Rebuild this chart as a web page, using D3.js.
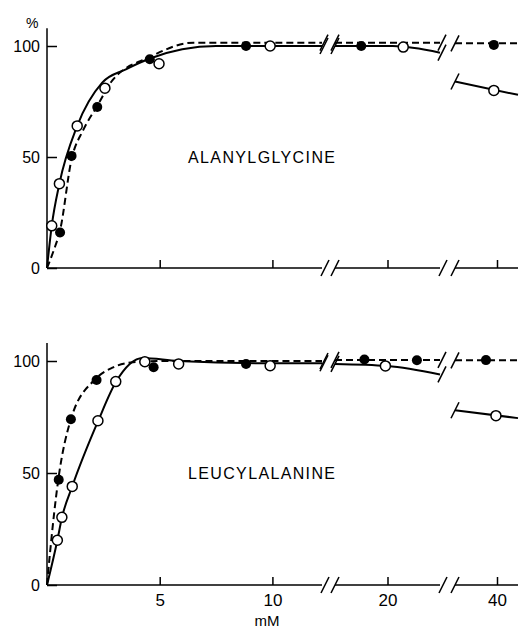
<!DOCTYPE html>
<html>
<head>
<meta charset="utf-8">
<script src="https://cdn.jsdelivr.net/npm/d3@7"></script>
<style>
  body { margin: 0; background: #fff; }
  text { font-family: "Liberation Sans", Arial, sans-serif; fill: #000; }
</style>
</head>
<body>
<div id="chart"></div>
<script>
// x axis is broken twice: three pieces in mM
const xSegments = [[0, 12.2], [15, 25], [36, 42]];
const xTicks = [5, 10, 20, 40];
const yTicks = [0, 50, 100];

// ALANYLGLYCINE: points [mM, %]
const alaOpen = [[0.21, 19], [0.55, 38], [1.34, 64], [2.57, 81], [4.97, 92], [9.9, 100], [21.5, 99.5], [39.7, 80]];
const alaFilled = [[0.58, 16], [1.09, 50.5], [2.23, 72.5], [4.56, 94], [8.83, 100], [17.5, 100], [39.7, 100.5]];
// drawn curves, one array per axis piece
const alaSolid = [
  [[0, 0], [0.21, 19], [0.55, 38], [1.34, 64], [2.45, 83.5], [3.5, 89.5], [4.6, 94.5], [6, 98.5], [7.5, 100], [12.2, 100]],
  [[15, 100], [20.5, 100], [25, 97]],
  [[36, 84], [42, 78]]
];
const alaDashed = [
  [[0, 0], [0.3, 8], [0.58, 17], [1.09, 49], [1.6, 62], [2.23, 73], [2.9, 84.5], [4.56, 95], [6.5, 101.5], [12.2, 101.5]],
  [[15, 101.5], [25, 101.5]],
  [[36, 101.2], [42, 101.2]]
];

// LEUCYLALANINE
const leuOpen = [[0.46, 20], [0.66, 30.2], [1.12, 44], [2.26, 73.3], [3.05, 90.8], [4.34, 99.7], [5.84, 98.7], [9.9, 97.9], [19.8, 97.8], [39.9, 75.6]];
const leuFilled = [[0.52, 47], [1.06, 74], [2.2, 91.5], [4.73, 97.2], [8.83, 98.7], [17.8, 100.7], [22.8, 100.3], [38.95, 100.4]];
const leuSolid = [
  [[0, 0], [0.46, 20], [0.66, 30], [1.12, 44], [2.26, 73], [3.05, 90.5], [4.25, 101.3], [5.8, 100], [10, 99], [12.2, 99]],
  [[15, 98.7], [20, 97.8], [25, 94]],
  [[36, 78], [42, 74.5]]
];
const leuDashed = [
  [[0, 0], [0.13, 14], [0.5, 47], [1.06, 74], [2.1, 91.5], [2.9, 97], [3.7, 99.3], [5, 100], [12.2, 100]],
  [[15, 100.5], [25, 100.5]],
  [[36, 100.3], [42, 100.3]]
];

const width = 522, height = 631;

const svg = d3.select("#chart")
  .append("svg")
    .attr("width", width)
    .attr("height", height);

// one polylinear scale for the broken axis
const x = d3.scaleLinear()
  .domain(xSegments.flat())
  .range([47, 322, 335, 440, 455, 518]);

const line = d3.line()
  .x(d => x(d[0]))
  .y(d => d[1])
  .curve(d3.curveMonotoneX);

function slash(g, px, py) {
  g.append("line")
    .attr("x1", px - 4).attr("y1", py + 8)
    .attr("x2", px + 4).attr("y2", py - 8)
    .attr("stroke", "#000")
    .attr("stroke-width", 1.5);
}

function drawPanel(opts) {
  const y = d3.scaleLinear().domain([0, 100]).range(opts.yRange);
  const g = svg.append("g");

  // y axis
  const ya = g.append("g")
    .attr("transform", `translate(${x(0)},0)`)
    .call(d3.axisLeft(y).tickValues(yTicks).tickSizeInner(-10).tickSizeOuter(0).tickPadding(7));
  ya.select(".domain").remove();
  ya.selectAll("line").attr("stroke-width", 1.5);
  ya.selectAll("text").style("font-size", "16px").style("font-family", "Liberation Sans, Arial, sans-serif");
  g.append("line")
    .attr("x1", x(0)).attr("x2", x(0))
    .attr("y1", y(0)).attr("y2", y(108))
    .attr("stroke", "#000").attr("stroke-width", 1.5);

  // x axis, drawn piece by piece
  const xa = g.append("g")
    .attr("transform", `translate(0,${y(0)})`)
    .call(d3.axisBottom(x).tickValues(xTicks).tickSizeInner(-8).tickSizeOuter(0).tickPadding(9)
      .tickFormat(opts.labels ? d3.format("d") : ""));
  xa.select(".domain").remove();
  xa.selectAll("line").attr("stroke-width", 1.5);
  xa.selectAll("text").style("font-size", "17px").style("font-family", "Liberation Sans, Arial, sans-serif");

  xSegments.forEach((s, i) => {
    g.append("line")
      .attr("x1", x(s[0])).attr("x2", x(s[1]))
      .attr("y1", y(0)).attr("y2", y(0))
      .attr("stroke", "#000").attr("stroke-width", 1.5);
    if (i > 0) slash(g, x(s[0]), y(0));
    if (i < xSegments.length - 1) slash(g, x(s[1]) + 3, y(0));
  });

  // curves
  [[opts.dashed, "7,4"], [opts.solid, null]].forEach(([pieces, dash]) => {
    pieces.forEach((p, i) => {
      const pts = p.map(d => [d[0], y(d[1])]);
      g.append("path")
        .attr("d", line(pts))
        .attr("fill", "none")
        .attr("stroke", "#000")
        .attr("stroke-width", 2)
        .attr("stroke-dasharray", dash);
      if (i > 0) slash(g, x(p[0][0]), y(p[0][1]));
      if (i < pieces.length - 1) slash(g, x(p[p.length - 1][0]) + 2, y(p[p.length - 1][1]));
    });
  });

  // points
  g.selectAll(".filled")
    .data(opts.filled)
    .join("circle")
      .attr("cx", d => x(d[0]))
      .attr("cy", d => y(d[1]))
      .attr("r", 5)
      .attr("fill", "#000");

  g.selectAll(".open")
    .data(opts.open)
    .join("circle")
      .attr("cx", d => x(d[0]))
      .attr("cy", d => y(d[1]))
      .attr("r", 5)
      .attr("fill", "#fff")
      .attr("stroke", "#000")
      .attr("stroke-width", 1.5);

  g.append("text")
    .attr("x", 188)
    .attr("y", y(50) + 6)
    .attr("textLength", 147)
    .attr("lengthAdjust", "spacing")
    .style("font-size", "16px")
    .text(opts.name);

  return y;
}

drawPanel({
  name: "ALANYLGLYCINE", yRange: [268, 46], labels: false,
  open: alaOpen, filled: alaFilled, solid: alaSolid, dashed: alaDashed
});

drawPanel({
  name: "LEUCYLALANINE", yRange: [585, 361], labels: true,
  open: leuOpen, filled: leuFilled, solid: leuSolid, dashed: leuDashed
});

svg.append("text")
  .attr("x", 26)
  .attr("y", 28)
  .style("font-size", "14px")
  .text("%");

svg.append("text")
  .attr("x", 267)
  .attr("y", 626)
  .attr("text-anchor", "middle")
  .style("font-size", "15px")
  .text("mM");
</script>
</body>
</html>
